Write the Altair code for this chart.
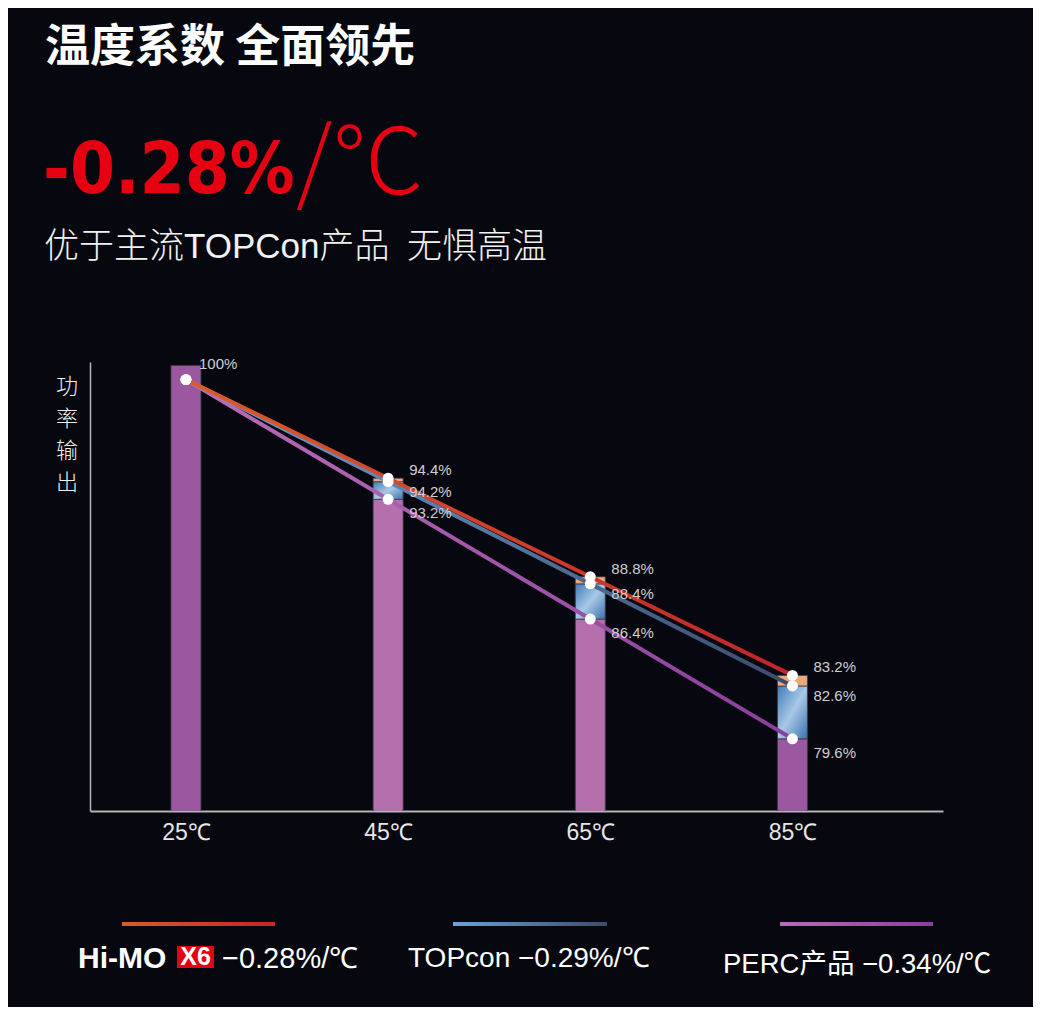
import altair as alt
import pandas as pd

# ---------------- data ----------------
temps = [25, 45, 65, 85]
himo = [100.0, 94.4, 88.8, 83.2]
topcon = [100.0, 94.2, 88.4, 82.6]
perc = [100.0, 93.2, 86.4, 79.6]
bar_top_25 = 100.8
series_names = ["Hi-MO X6", "TOPcon", "PERC"]

title_text = "温度系数 全面领先"
big_number = "-0.28%"
big_unit = "/℃"
subtitle_text = "优于主流TOPCon产品\u2002无惧高温"
y_title = ["功", "率", "输", "出"]
legend_rates = ["−0.28%/℃", "−0.29%/℃", "−0.34%/℃"]

# ---------------- tables ----------------
base_top = [bar_top_25 if t == 25 else p for t, p in zip(temps, perc)]
bars_df = pd.DataFrame({"temp": temps, "base": base_top, "perc": perc,
                        "topcon": topcon, "himo": himo})

rows = []
for name, vals in zip(series_names, [himo, topcon, perc]):
    for t, v in zip(temps, vals):
        rows.append({"temp": t, "series": name, "value": v})
long_df = pd.DataFrame(rows)

BG = "#07080f"
FONT = "Liberation Sans"
CJK = "Noto Sans CJK SC"
MIX = "Liberation Sans, Noto Sans CJK SC"
COND = "DejaVu Sans Condensed, Roboto"

xs = alt.Scale(domain=[16, 99.4], nice=False, zero=False)
ys = alt.Scale(domain=[75.5, 101], nice=False, zero=False)
x_axis = alt.Axis(values=temps, labelExpr="datum.value + '℃'", ticks=False, grid=False,
                  domainColor="#b4b4b4", domainWidth=2, labelColor="#e6e6e6",
                  labelFontSize=23, labelFont=FONT, labelPadding=10, title=None)
y_axis = alt.Axis(labels=False, ticks=False, grid=False, domainColor="#b4b4b4",
                  domainWidth=1.5, title=None)
X = alt.X("temp:Q", scale=xs, axis=x_axis)


def grad(stops, x1=0, y1=0, x2=1, y2=0):
    return alt.Gradient(gradient="linear",
                        stops=[alt.GradientStop(color=c, offset=o) for o, c in stops],
                        x1=x1, y1=y1, x2=x2, y2=y2)


# ---------------- bars ----------------
base_bars = alt.Chart(bars_df).mark_bar(size=30, stroke="#3a3a44", strokeWidth=0.8,
                                        clip=True).encode(
    x=X,
    y=alt.Y("base:Q", scale=ys, axis=y_axis),
    color=alt.condition((alt.datum.temp == 25) | (alt.datum.temp == 85),
                        alt.value("#9b58a0"), alt.value("#b46fac")),
)
blue_grad = grad([(0, "#3f7cb9"), (0.5, "#a8c8e7"), (1, "#3a72ae")], 0, 0, 1, 1)
mid_bars = alt.Chart(bars_df).transform_filter(alt.datum.temp > 25).mark_bar(
    size=30, color=blue_grad, stroke="#3a3a44", strokeWidth=0.8).encode(
    x=X,
    y=alt.Y("topcon:Q", scale=ys, axis=y_axis),
    y2="perc:Q",
)
top_bars = alt.Chart(bars_df).transform_filter(alt.datum.temp > 25).mark_bar(
    size=30, color="#eca97c", stroke="#3a3a44", strokeWidth=0.8).encode(
    x=X,
    y=alt.Y("himo:Q", scale=ys, axis=y_axis),
    y2="topcon:Q",
)

# ---------------- lines ----------------
line_grads = {
    "PERC": grad([(0, "#b96db6"), (1, "#8a3e9d")]),
    "TOPcon": grad([(0, "#6aa2d9"), (1, "#3c4b69")]),
    "Hi-MO X6": grad([(0, "#dc5a2c"), (1, "#c32428")]),
}
lines = []
for name in ["PERC", "TOPcon", "Hi-MO X6"]:
    lines.append(
        alt.Chart(long_df).transform_filter(alt.datum.series == name).mark_line(
            color=line_grads[name], strokeWidth=4).encode(
            x=X, y=alt.Y("value:Q", scale=ys, axis=y_axis))
    )

points = alt.Chart(long_df).mark_circle(size=120, color="white", opacity=1).encode(
    x=X, y=alt.Y("value:Q", scale=ys, axis=y_axis))

# ---------------- value labels ----------------
label_dy = {"Hi-MO X6": -8, "TOPcon": 10, "PERC": 14}
labels = []
for name in series_names:
    labels.append(
        alt.Chart(long_df).transform_filter((alt.datum.series == name) & (alt.datum.temp > 25))
        .transform_calculate(lbl="format(datum.value, '~g') + '%'")
        .mark_text(align="left", baseline="middle", dx=21, dy=label_dy[name],
                   fontSize=15, font=FONT, color="#cfcfcf")
        .encode(x=X, y=alt.Y("value:Q", scale=ys, axis=y_axis), text="lbl:N")
    )
labels.append(
    alt.Chart(long_df).transform_filter((alt.datum.series == "Hi-MO X6") & (alt.datum.temp == 25))
    .transform_calculate(lbl="format(datum.value, '~g') + '%'")
    .mark_text(align="left", baseline="middle", dx=13, dy=-16,
               fontSize=15, font=FONT, color="#cfcfcf")
    .encode(x=X, y=alt.Y("value:Q", scale=ys, axis=y_axis), text="lbl:N")
)

# ---------------- headline texts ----------------
def txt(text, x, y, **kw):
    return alt.Chart(pd.DataFrame({"t": [text]})).mark_text(**kw).encode(
        x=alt.value(x), y=alt.value(y), text="t:N")

head = [
    txt(title_text, -45, -314, align="left", baseline="middle", font=CJK,
        fontSize=45, fontWeight="bold", color="#ffffff"),
    txt(big_number, -47, -169, align="left", baseline="alphabetic",
        font=COND, fontSize=72, fontWeight="bold", color="#e60012"),
    txt(big_unit, 206, -168, align="left", baseline="alphabetic",
        font=CJK, fontSize=92, fontWeight=300, color="#e60012"),
    txt(subtitle_text, -46, -115, align="left", baseline="middle", font=MIX,
        fontSize=35, fontWeight=300, color="#f2f2f2"),
]
# vertical axis title, one character per line
ytitle = [
    txt(ch, -23, 25 + 32 * i, align="center", baseline="middle", font=CJK, fontSize=22,
        fontWeight=300, color="#f0f0f0")
    for i, ch in enumerate(y_title)
]

# ---------------- custom legend ----------------
leg_grads = [line_grads["Hi-MO X6"], line_grads["TOPcon"], line_grads["PERC"]]
leg_x = [(32, 185), (363, 517), (690, 843)]
legend = []
for g, (a, b) in zip(leg_grads, leg_x):
    legend.append(alt.Chart(pd.DataFrame({"a": [0]})).mark_rect(color=g).encode(
        x=alt.value(a), x2=alt.value(b), y=alt.value(560), y2=alt.value(564)))
legend.append(txt("Hi-MO", -12, 606, align="left", baseline="alphabetic", font=FONT,
                  fontSize=30, fontWeight="bold", color="#ffffff"))
legend.append(alt.Chart(pd.DataFrame({"a": [0]})).mark_rect(color="#e60012").encode(
    x=alt.value(87), x2=alt.value(124), y=alt.value(584), y2=alt.value(606)))
legend.append(txt("X6", 105.5, 603, align="center", baseline="alphabetic", font=FONT,
                  fontSize=25, fontWeight="bold", color="#ffffff"))
legend.append(txt(legend_rates[0], 132, 606, align="left", baseline="alphabetic", font=FONT,
                  fontSize=29, color="#ffffff"))
legend.append(txt("TOPcon " + legend_rates[1], 318, 605, align="left", baseline="alphabetic",
                  font=FONT, fontSize=28, color="#ffffff"))
legend.append(txt("PERC产品 " + legend_rates[2], 633, 611, align="left", baseline="alphabetic",
                  font=MIX, fontSize=27.5, color="#ffffff"))

chart = alt.layer(
    base_bars, mid_bars, top_bars, *lines, points, *labels, *head, *ytitle, *legend
).properties(
    width=853, height=449,
    autosize=alt.AutoSizeParams(type="none"),
    padding={"left": 82, "top": 354, "right": 90, "bottom": 196},
    background=BG,
).configure_view(stroke=None)

chart.save("out.html", embed_options={"renderer": "svg", "actions": False})
